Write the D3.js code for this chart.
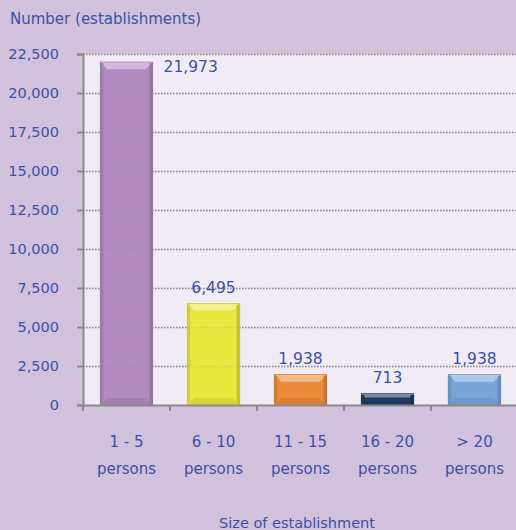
<!DOCTYPE html>
<html>
<head>
<meta charset="utf-8">
<script src="https://cdn.jsdelivr.net/npm/d3@7"></script>
<style>
  body { margin: 0; background: #d2c1dc; }
  svg { display: block; }
  text { font-family: 'DejaVu Sans', sans-serif; fill: #3a52a6; }
</style>
</head>
<body>
<script>
;(function () {
  const categories = ['1 - 5|persons', '6 - 10|persons', '11 - 15|persons', '16 - 20|persons', '> 20|persons']
  const values = [21973, 6495, 1938, 713, 1938]
  const valueLabels = ['21,973', '6,495', '1,938', '713', '1,938']
  const barColors = ['#b18bc0', '#e9e83f', '#e98b3a', '#1f3b63', '#78a5d9']
  const yTicks = [0, 2500, 5000, 7500, 10000, 12500, 15000, 17500, 20000, 22500]

  const width = 516
  const height = 530
  const margin = { top: 54, right: -2, bottom: 125, left: 83 }

  const svg = d3.select('body').append('svg')
    .attr('width', width)
    .attr('height', height)

  const x = d3.scaleBand()
    .domain(categories)
    .range([margin.left, width - margin.right])
    .paddingInner(0.4)
    .paddingOuter(0.2)

  const y = d3.scaleLinear()
    .domain([0, 22500])
    .range([height - margin.bottom, margin.top])

  // plot background
  svg.append('rect')
    .attr('x', margin.left)
    .attr('y', y(22500))
    .attr('width', width - margin.left)
    .attr('height', y(0) - y(22500))
    .attr('fill', '#f1ebf6')

  const grid = (g, op) => g.selectAll('line')
    .data(yTicks.filter((d) => d > 0))
    .enter()
    .append('line')
    .attr('x1', margin.left)
    .attr('x2', width)
    .attr('y1', (d) => y(d) + 0.5)
    .attr('y2', (d) => y(d) + 0.5)
    .attr('stroke', '#8a8a8a')
    .attr('stroke-opacity', op)
    .attr('stroke-width', 1.4)
    .attr('stroke-dasharray', '1.5,1.5')

  // dotted grid
  svg.append('g').call(grid, 1)

  // bars with a bevel look
  const shade = (c, k) => d3.interpolateRgb(c, k > 0 ? '#ffffff' : '#000000')(Math.abs(k))
  const bars = svg.append('g')
    .selectAll('g')
    .data(values.map((v, i) => ({ cat: categories[i], v, color: barColors[i] })))
    .enter()
    .append('g')

  bars.append('rect')
    .attr('x', (d) => x(d.cat))
    .attr('y', (d) => y(d.v))
    .attr('width', x.bandwidth())
    .attr('height', (d) => y(0) - y(d.v))
    .attr('fill', (d) => d.color)
    .attr('stroke', (d) => shade(d.color, -0.2))
    .attr('stroke-width', 1)

  const bevel = 7
  bars.append('polygon')
    .attr('points', (d) => {
      const x0 = x(d.cat), x1 = x0 + x.bandwidth(), y0 = y(d.v)
      const b = Math.min(bevel, (y(0) - y0) / 3)
      return [[x0, y0], [x1, y0], [x1 - b, y0 + b], [x0 + b, y0 + b]].join(' ')
    })
    .attr('fill', (d) => shade(d.color, 0.4))

  bars.append('polygon')
    .attr('points', (d) => {
      const x0 = x(d.cat), x1 = x0 + x.bandwidth(), y0 = y(d.v), yb = y(0)
      const b = Math.min(bevel, (yb - y0) / 3)
      return [[x0, yb], [x1, yb], [x1 - b, yb - b], [x0 + b, yb - b]].join(' ')
    })
    .attr('fill', (d) => shade(d.color, -0.08))

  bars.append('rect')
    .attr('x', (d) => x(d.cat))
    .attr('y', (d) => y(d.v) + 1)
    .attr('width', 3)
    .attr('height', (d) => Math.max(0, y(0) - y(d.v) - 2))
    .attr('fill', (d) => shade(d.color, -0.1))
  bars.append('rect')
    .attr('x', (d) => x(d.cat) + x.bandwidth() - 3)
    .attr('y', (d) => y(d.v) + 1)
    .attr('width', 3)
    .attr('height', (d) => Math.max(0, y(0) - y(d.v) - 2))
    .attr('fill', (d) => shade(d.color, -0.16))

  // faint grid showing through bars
  svg.append('g').call(grid, 0.25)

  // value labels
  bars.append('text')
    .attr('x', (d, i) => i === 0 ? x(d.cat) + x.bandwidth() + 11 : x(d.cat) + x.bandwidth() / 2)
    .attr('y', (d, i) => i === 0 ? y(d.v) + 10 : y(d.v) - 11)
    .attr('text-anchor', (d, i) => i === 0 ? 'start' : 'middle')
    .attr('font-size', 15.5)
    .text((d, i) => valueLabels[i])

  // y axis
  const yAxis = svg.append('g')
    .attr('transform', `translate(${margin.left},0)`)
    .call(d3.axisLeft(y).tickValues(yTicks).tickFormat(d3.format(',')).tickSize(6).tickPadding(18))
  yAxis.select('.domain').attr('stroke', '#8a8a8a').attr('stroke-width', 2)
  yAxis.selectAll('.tick line').attr('stroke', '#8a8a8a').attr('stroke-width', 2)
  yAxis.selectAll('.tick text').attr('font-size', 14.5).attr('fill', '#3a52a6')
    .style('font-family', "'DejaVu Sans', sans-serif")

  // x axis
  const xAxis = svg.append('g')
    .attr('transform', `translate(0,${y(0)})`)
    .call(d3.axisBottom(x).tickSize(0).tickFormat(''))
  xAxis.select('.domain').attr('stroke', '#8a8a8a').attr('stroke-width', 2)
  const step = x.step()
  svg.append('g')
    .selectAll('line')
    .data(categories)
    .enter()
    .append('line')
    .attr('x1', (d) => x(d) - x.paddingOuter() * step)
    .attr('x2', (d) => x(d) - x.paddingOuter() * step)
    .attr('y1', y(0))
    .attr('y2', y(0) + 6)
    .attr('stroke', '#8a8a8a')
    .attr('stroke-width', 2)

  const catText = svg.append('g')
    .selectAll('text')
    .data(categories)
    .enter()
    .append('text')
    .attr('x', (d) => x(d) + x.bandwidth() / 2)
    .attr('y', y(0) + 42)
    .attr('text-anchor', 'middle')
    .attr('font-size', 15)
  catText.append('tspan')
    .attr('x', (d) => x(d) + x.bandwidth() / 2)
    .text((d) => d.split('|')[0])
  catText.append('tspan')
    .attr('x', (d) => x(d) + x.bandwidth() / 2)
    .attr('dy', 27)
    .text((d) => d.split('|')[1])

  // titles
  svg.append('text')
    .attr('x', 10)
    .attr('y', 24)
    .attr('font-size', 15)
    .text('Number (establishments)')

  svg.append('text')
    .attr('x', 297)
    .attr('y', 528)
    .attr('text-anchor', 'middle')
    .attr('font-size', 14.5)
    .text('Size of establishment')
})()
</script>
</body>
</html>
